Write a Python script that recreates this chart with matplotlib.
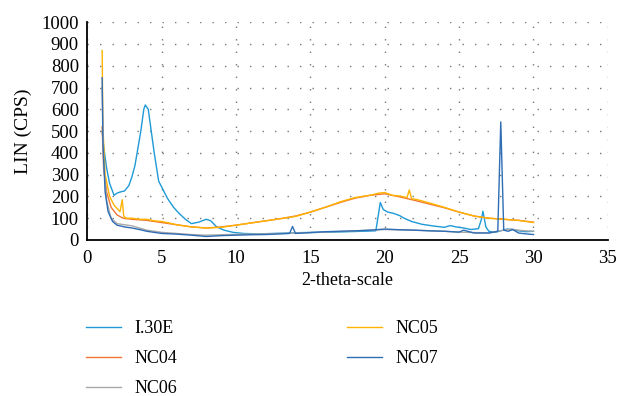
import matplotlib

matplotlib.use("Agg")

import matplotlib.pyplot as plt

plt.rcParams["font.family"] = ["Liberation Serif", "DejaVu Serif"]

# values (2-theta, counts)
i30e_x = [1.0, 1.1, 1.3, 1.5, 1.8, 2.0, 2.2, 2.5, 2.8, 3.0, 3.2, 3.4, 3.6, 3.8, 3.9, 4.1, 4.3,
          4.5, 4.8, 5.1, 5.4, 5.8, 6.2, 6.6, 7.0, 7.5, 8.0, 8.3, 8.7, 9.2, 9.8, 10.5, 11.5, 12.5,
          13.5, 14.5, 15.5, 16.5, 17.5, 18.5, 19.4, 19.7, 19.9, 20.2, 20.6, 21.0, 21.3, 21.8,
          22.5, 23.2, 24.0, 24.4, 24.8, 25.3, 25.8, 26.3, 26.5, 26.6, 26.8, 27.0, 27.4, 27.8,
          28.2, 28.6, 29.0, 29.5, 30.0]
i30e_y = [500, 430, 330, 260, 205, 215, 220, 225, 250, 290, 340, 420, 500, 600, 620, 600, 500,
          400, 270, 230, 190, 150, 120, 95, 75, 82, 95, 88, 60, 45, 35, 30, 28, 30,
          32, 34, 35, 36, 38, 40, 42, 172, 140, 128, 122, 112, 100, 85,
          72, 65, 58, 66, 60, 55, 48, 52, 95, 132, 60, 40, 35, 42,
          50, 48, 42, 38, 40]

nc04_x = [1.0, 1.1, 1.3, 1.6, 2.0, 2.4, 3.0, 4.0, 5.0, 6.0, 7.0, 8.0, 9.0, 10.0, 11.0, 12.0, 13.0,
          14.0, 15.0, 16.0, 17.0, 18.0, 19.0, 20.0, 21.0, 22.0, 23.0, 24.0, 25.0, 26.0, 27.0,
          28.0, 29.0, 30.0]
nc04_y = [520, 330, 220, 150, 115, 100, 95, 90, 80, 70, 60, 55, 60, 68, 78, 88, 98,
          110, 128, 150, 172, 192, 205, 212, 198, 182, 165, 148, 128, 110, 100,
          95, 90, 82]

nc05_x = [1.0, 1.05, 1.2, 1.5, 1.8, 2.0, 2.2, 2.35, 2.45, 2.6, 3.0, 3.5, 4.0, 4.5, 5.0, 5.5, 6.0,
          7.0, 8.0, 9.0, 10.0, 11.0, 12.0, 13.0, 14.0, 15.0, 16.0, 17.0, 18.0, 19.0, 19.6,
          20.0, 20.5, 21.0, 21.5, 21.65, 21.8, 22.2, 23.0, 24.0, 25.0, 26.0, 27.0, 28.0,
          29.0, 29.5, 30.0]
nc05_y = [870, 520, 300, 200, 160, 145, 130, 185, 110, 100, 100, 95, 95, 88, 85, 78, 70,
          60, 55, 58, 68, 78, 88, 98, 108, 128, 150, 175, 195, 205, 215,
          218, 205, 202, 195, 230, 190, 185, 170, 150, 128, 110, 100, 95,
          90, 85, 80]

nc06_x = [1.0, 1.1, 1.3, 1.6, 2.0, 2.5, 3.0, 3.5, 4.0, 5.0, 6.0, 7.0, 8.0, 9.0, 10.0, 12.0,
          14.0, 16.0, 18.0, 20.0, 22.0, 24.0, 25.0, 26.0, 27.0, 27.6, 28.0, 28.5, 29.0,
          29.5, 30.0]
nc06_y = [700, 350, 180, 100, 75, 70, 65, 55, 45, 35, 30, 25, 22, 24, 26, 28,
          32, 36, 42, 48, 45, 40, 36, 34, 32, 40, 45, 50, 45, 42, 40]

nc07_x = [1.0, 1.05, 1.2, 1.4, 1.7, 2.0, 2.5, 3.0, 3.5, 4.0, 5.0, 6.0, 7.0, 8.0, 8.5, 9.0,
          10.0, 11.0, 12.0, 13.0, 13.6, 13.8, 14.0, 15.0, 16.0, 17.0, 18.0, 19.0, 20.0,
          21.0, 22.0, 23.0, 24.0, 25.0, 25.3, 26.0, 27.0, 27.6, 27.8, 28.0, 28.3, 28.6,
          29.0, 29.5, 30.0]
nc07_y = [745, 450, 220, 130, 85, 68, 60, 55, 48, 40, 30, 27, 22, 16, 18, 20,
          22, 24, 25, 28, 30, 62, 30, 34, 38, 40, 42, 45, 50,
          47, 45, 42, 40, 36, 45, 32, 32, 40, 542, 45, 40, 48,
          32, 28, 25]

series = [
    ("I.30E", i30e_x, i30e_y, "#1e9ad6"),
    ("NC04", nc04_x, nc04_y, "#ef7733"),
    ("NC05", nc05_x, nc05_y, "#ffb300"),
    ("NC06", nc06_x, nc06_y, "#a9a9a9"),
    ("NC07", nc07_x, nc07_y, "#2f6db5"),
]

fig = plt.figure(figsize=(6.19, 3.96), dpi=100)
ax = fig.add_axes([0.141, 0.394, 0.841, 0.550])

lines = {}
for name, xs, ys, color in series:
    (line,) = ax.plot(xs, ys, color=color, linewidth=1.0, label=name)
    lines[name] = line

ax.set_xlim(0, 35)
ax.set_ylim(0, 1000)
ax.set_xticks(range(0, 36, 5))
ax.set_yticks(range(0, 1001, 100))
ax.grid(True, color="#777777", linestyle=(0, (1, 8)), linewidth=1.0)
ax.set_axisbelow(True)
ax.tick_params(length=0, labelsize=13.5)
ax.tick_params(axis="x", pad=7)
ax.tick_params(axis="y", pad=6)
ax.spines["top"].set_visible(False)
ax.spines["right"].set_visible(False)
ax.spines["left"].set_linewidth(1.3)
ax.spines["bottom"].set_linewidth(1.3)
ax.set_xlabel("2-theta-scale", fontsize=13, labelpad=4)
ax.set_ylabel("LIN (CPS)", fontsize=14, labelpad=7)

order = ["I.30E", "NC04", "NC06", "NC05", "NC07"]
fig.legend(
    [lines[n] for n in order],
    order,
    ncol=2,
    loc="upper left",
    bbox_to_anchor=(0.112, 0.232),
    frameon=False,
    fontsize=13,
    handlelength=1.97,
    handletextpad=0.73,
    columnspacing=9.4,
    labelspacing=0.72,
)

fig.savefig("out.png", dpi=100)
